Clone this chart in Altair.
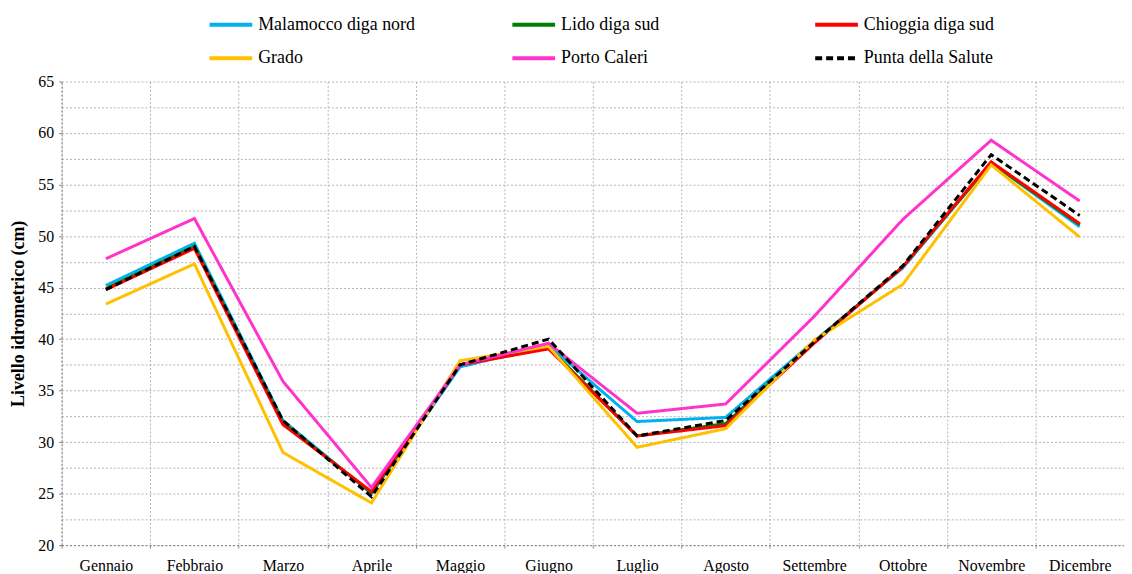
import altair as alt
import pandas as pd

months = ["Gennaio", "Febbraio", "Marzo", "Aprile", "Maggio", "Giugno",
          "Luglio", "Agosto", "Settembre", "Ottobre", "Novembre", "Dicembre"]
series_names = ["Malamocco diga nord", "Lido diga sud", "Chioggia diga sud",
                "Grado", "Porto Caleri", "Punta della Salute"]

malamocco = [45.2, 49.3, 32.1, 25.0, 37.3, 39.4, 32.0, 32.4, 39.8, 46.9, 57.1, 50.9]
lido      = [44.9, 49.0, 31.9, 25.1, 37.5, 39.2, 30.6, 31.8, 39.7, 47.0, 57.1, 51.1]
chioggia  = [44.8, 48.8, 31.7, 25.2, 37.5, 39.05, 30.6, 31.6, 39.6, 47.0, 57.2, 51.2]
grado     = [43.4, 47.3, 29.0, 24.1, 37.9, 39.3, 29.5, 31.3, 39.9, 45.3, 56.9, 49.9]
porto     = [47.8, 51.7, 35.9, 25.6, 37.5, 39.6, 32.8, 33.7, 42.2, 51.6, 59.3, 53.4]
punta     = [44.8, 49.0, 32.1, 24.7, 37.5, 40.0, 30.6, 32.1, 39.7, 47.1, 57.9, 52.0]

series_colors = ["#00B0F0", "#008000", "#FF0000", "#FFC000", "#FF33CC", "#000000"]
series_dashes = [[1, 0], [1, 0], [1, 0], [1, 0], [1, 0], [7, 4]]

y_values = [20 + 2.5 * i for i in range(19)]

rows = []
for name, vals in zip(series_names, [malamocco, lido, chioggia, grado, porto, punta]):
    for m, v in zip(months, vals):
        rows.append({"Mese": m, "Stazione": name, "Livello": v})
df = pd.DataFrame(rows)

FONT = "Liberation Serif"
major_only = {"condition": {"test": "datum.value % 5 === 0", "value": 1}, "value": 0}

chart = alt.Chart(df).mark_line(strokeWidth=3).encode(
    x=alt.X("Mese:N", sort=months,
            scale=alt.Scale(type="band", paddingInner=0, paddingOuter=0),
            axis=alt.Axis(title=None, tickBand="extent", labelAngle=0,
                          grid=True, gridColor="#b4b4b4", gridDash=[2, 2],
                          ticks=True, tickSize=3, tickColor="#909090",
                          domain=True, domainColor="#808080", domainDash=[2, 2],
                          labelFont=FONT, labelFontSize=16, labelColor="black",
                          labelPadding=10)),
    y=alt.Y("Livello:Q",
            scale=alt.Scale(domain=[20, 65], nice=False, zero=False),
            axis=alt.Axis(values=y_values,
                          labelExpr="datum.value % 5 == 0 ? datum.label : ''",
                          title="Livello idrometrico (cm)",
                          titleFont=FONT, titleFontSize=18, titleFontWeight="bold",
                          titleColor="black", titlePadding=10,
                          grid=True, gridColor="#b4b4b4", gridDash=[2, 2],
                          ticks=True, tickSize=3, tickColor="#808080",
                          tickOpacity=major_only,
                          domain=True, domainColor="#808080", domainDash=[2, 2],
                          labelFont=FONT, labelFontSize=16, labelColor="black",
                          labelPadding=5)),
    color=alt.Color("Stazione:N", sort=series_names,
                    scale=alt.Scale(domain=series_names, range=series_colors),
                    legend=alt.Legend(title=None)),
    strokeDash=alt.StrokeDash("Stazione:N", sort=series_names,
                              scale=alt.Scale(domain=series_names, range=series_dashes),
                              legend=alt.Legend(title=None)),
).properties(
    width=1070, height=467,
    padding={"left": 54, "top": 72, "right": 0, "bottom": 26},
    autosize=alt.AutoSizeParams(type="none"),
).configure(
    font=FONT
).configure_view(
    stroke="transparent"
).configure_legend(
    orient="none", legendX=147, legendY=-81,
    direction="horizontal", columns=3, gridAlign="all",
    columnPadding=90, rowPadding=1,
    symbolType="stroke", symbolSize=1849, symbolStrokeWidth=4,
    labelFont=FONT, labelFontSize=18, labelColor="black",
    labelOffset=4, labelLimit=300,
)

chart.save("out.html", embed_options={"renderer": "svg", "actions": False})
